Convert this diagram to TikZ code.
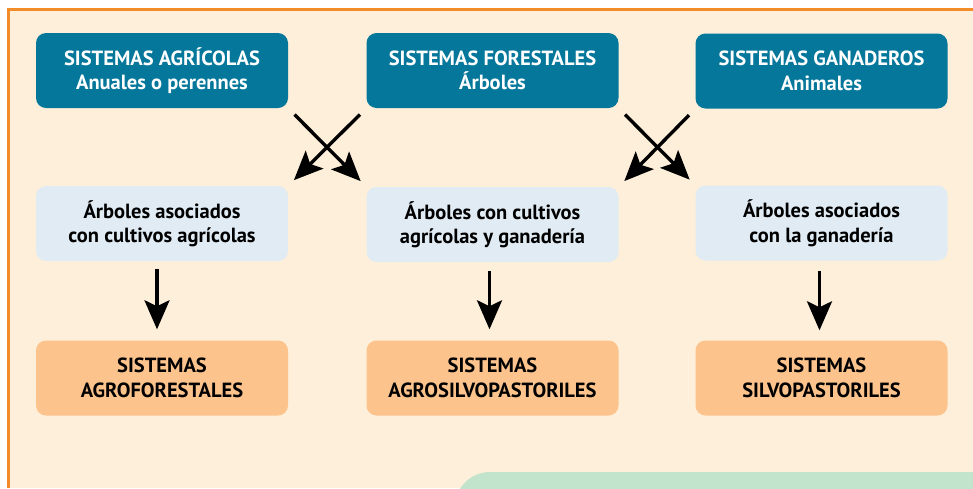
\documentclass[tikz,border=0pt]{standalone}
\usepackage{fontspec}
\setmainfont{PT Sans}
\usetikzlibrary{arrows.meta,positioning}
\definecolor{sisblue}{HTML}{04779B}
\definecolor{asocblue}{HTML}{E0EBF3}
\definecolor{resorange}{HTML}{FCC38C}
\definecolor{fondo}{HTML}{FEEFDA}
\definecolor{borde}{HTML}{F28C28}
\definecolor{verde}{HTML}{C2E3CC}

\begin{document}
\begin{tikzpicture}[x=1pt,y=-1pt,
    caja/.style={rounded corners=10pt,minimum width=252pt,minimum height=75pt,align=center,
      font=\bfseries\fontsize{20.5}{24.5}\selectfont},
    sistema/.style={caja,fill=sisblue,text=white},
    asociado/.style={caja,fill=asocblue,text=black},
    resultado/.style={caja,fill=resorange,text=black},
    flecha/.style={line width=3.4pt,-{Stealth[length=29pt,width=25pt,inset=6pt]}}]
        \useasboundingbox (0,0) rectangle (973,488);
        % Background
        \fill[fondo] (8,9) rectangle (973,488);
        \draw[borde,line width=3pt] (8,488) -- (8,9) -- (973,9);
        \fill[verde,rounded corners=35pt] (455,472) rectangle (1040,560);
        % Top row
        \node[sistema] (agri) at (162,70.5) {SISTEMAS AGRÍCOLAS\\Anuales o perennes};
        \node[sistema] (fore) at (492.5,70.5) {SISTEMAS FORESTALES\\Árboles};
        \node[sistema] (gana) at (821.5,71) {SISTEMAS GANADEROS\\Animales};
        % Middle row
        \node[asociado] (cult) at (162,223.5) {Árboles asociados\\con cultivos agrícolas};
        \node[asociado] (ambos) at (492.5,224.5) {Árboles con cultivos\\agrícolas y ganadería};
        \node[asociado] (gan) at (821.5,223) {Árboles asociados\\con la ganadería};
        % Bottom row
        \node[resultado] (agro) at (162,378) {SISTEMAS\\AGROFORESTALES};
        \node[resultado] (silvo) at (492.5,378) {SISTEMAS\\AGROSILVOPASTORILES};
        \node[resultado] (pasto) at (821.5,378) {SISTEMAS\\SILVOPASTORILES};
        % Crossed arrows
        \draw[flecha,shorten <=9pt,shorten >=8pt] (agri.south east) -- (ambos.north west);
        \draw[flecha,shorten <=9pt,shorten >=8pt] (fore.south west) -- (cult.north east);
        \draw[flecha,shorten <=9pt,shorten >=8pt] (fore.south east) -- (gan.north west);
        \draw[flecha,shorten <=9pt,shorten >=8pt] (gana.south west) -- (ambos.north east);
        % Down arrows
        \draw[flecha,shorten <=8pt,shorten >=11pt] ([xshift=-5pt]cult.south) -- ([xshift=-5pt]agro.north);
        \draw[flecha,shorten <=9pt,shorten >=11pt] ([xshift=-3pt]ambos.south) -- ([xshift=-3pt]silvo.north);
        \draw[flecha,shorten <=10pt,shorten >=10pt] ([xshift=-2pt]gan.south) -- ([xshift=-2pt]pasto.north);
\end{tikzpicture}
\end{document}
